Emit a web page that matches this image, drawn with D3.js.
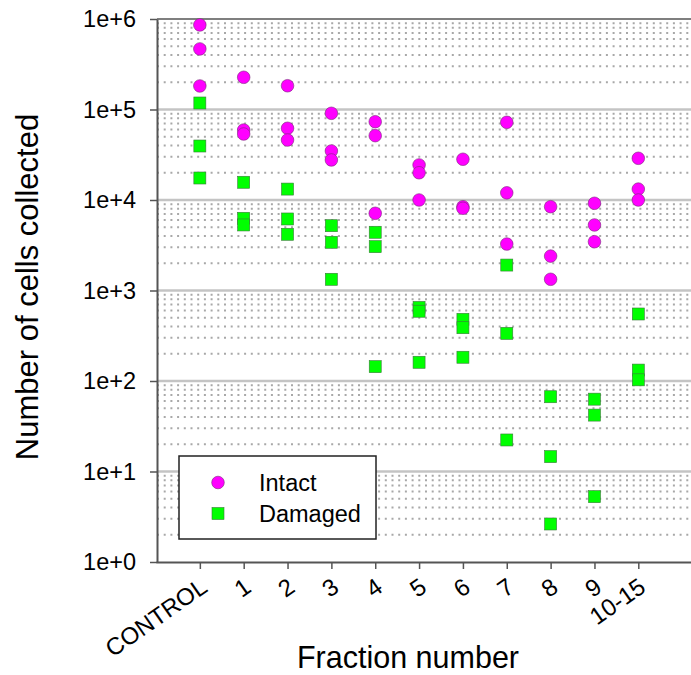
<!DOCTYPE html>
<html lang="en"><head>
<meta charset="utf-8">
<title>Cells collected by fraction</title>
<script type="text/javascript" src="https://cdn.jsdelivr.net/npm/d3@7/dist/d3.min.js"></script>
<style type="text/css">
  body { margin: 0; background: #fff; }
  text { font-family: "Liberation Sans", Arial, sans-serif; fill: #000; }
</style>
</head>
<body>
<script type="text/javascript">

var width = 691;
var height = 675;
var plot = {left: 157, top: 19, bottom: 562, right: 726};

var categories = ["CONTROL", "1", "2", "3", "4", "5", "6", "7", "8", "9", "10-15"];
var intact = [
  [860000, 467000, 182000],
  [227000, 59300, 53600],
  [183000, 62000, 46000],
  [90800, 34800, 27700],
  [73300, 51400, 7130],
  [24400, 20000, 10000],
  [28200, 8430, 8100],
  [72200, 12000, 3260],
  [8430, 2400, 1330],
  [9200, 5300, 3460],
  [28900, 13200, 10000]
];
var damaged = [
  [118000, 39500, 17500],
  [15700, 6280, 5300],
  [13200, 6170, 4180],
  [5200, 3410, 1330],
  [4400, 3050, 144],
  [650, 590, 161],
  [480, 388, 183],
  [1910, 336, 22.3],
  [67, 14.6, 2.63],
  [63, 42, 5.27],
  [550, 132, 103]
];
var yTicks = [1, 10, 100, 1000, 10000, 100000, 1000000];
var minorTicks = [];
yTicks.slice(0, -1).forEach(function(d) {
  for (var k = 2; k <= 9; k++) minorTicks.push(d * k);
});

var svg = d3.select("body").append("svg").attr("width", width).attr("height", height);

var x = d3.scaleLinear().domain([-1, 12]).range([plot.left - 1, plot.right]);
var y = d3.scaleLog().domain([1, 1e6]).range([plot.bottom, plot.top]);

// minor dotted grid
svg.append("g").selectAll("line").data(minorTicks).enter().append("line")
  .attr("x1", plot.left).attr("x2", width)
  .attr("y1", d => y(d)).attr("y2", d => y(d))
  .attr("stroke", "#a8a8a8").attr("stroke-width", 2)
  .attr("stroke-dasharray", "2,4.7");

// major grid
svg.append("g").selectAll("line").data(yTicks.slice(1, -1)).enter().append("line")
  .attr("x1", plot.left).attr("x2", width)
  .attr("y1", d => y(d)).attr("y2", d => y(d))
  .attr("stroke", "#c4c4c4").attr("stroke-width", 2.5);

// top frame line
svg.append("line").attr("x1", plot.left).attr("x2", width)
  .attr("y1", plot.top).attr("y2", plot.top)
  .attr("stroke", "#555").attr("stroke-width", 1.5);

var yAxis = d3.axisLeft(y).tickValues(yTicks).tickFormat(d3.format(".0e"))
  .tickSizeInner(7).tickSizeOuter(0).tickPadding(14);
var gY = svg.append("g").attr("transform", "translate(" + plot.left + ",0)").call(yAxis);
gY.selectAll("text").attr("font-size", "23.5px").style("font-family", "Liberation Sans, Arial, sans-serif");
gY.select(".domain").attr("stroke", "#555").attr("stroke-width", 2);
gY.selectAll(".tick line").attr("stroke", "#555").attr("stroke-width", 1.5);

var xAxis = d3.axisBottom(x).tickValues(d3.range(categories.length))
  .tickFormat(i => categories[i]).tickSizeInner(7).tickSizeOuter(0);
var gX = svg.append("g").attr("transform", "translate(0," + plot.bottom + ")").call(xAxis);
gX.select(".domain").attr("stroke", "#555").attr("stroke-width", 2);
gX.selectAll(".tick line").attr("stroke", "#555").attr("stroke-width", 1.5);
gX.selectAll(".tick text")
  .attr("font-size", "24px").style("font-family", "Liberation Sans, Arial, sans-serif")
  .attr("text-anchor", "end").attr("dy", null).attr("y", null)
  .attr("transform", "translate(8.5,28.5) rotate(-35)");

// points
var intactPts = [];
intact.forEach((vals, i) => vals.forEach(v => intactPts.push({i: i, v: v})));
var damagedPts = [];
damaged.forEach((vals, i) => vals.forEach(v => damagedPts.push({i: i, v: v})));

svg.append("g").selectAll("circle").data(intactPts).enter().append("circle")
  .attr("cx", d => x(d.i)).attr("cy", d => y(d.v)).attr("r", 6.3)
  .attr("fill", "#ff00ff").attr("stroke", "#7a2a7a").attr("stroke-width", 0.6);

svg.append("g").selectAll("rect").data(damagedPts).enter().append("rect")
  .attr("x", d => x(d.i) - 6).attr("y", d => y(d.v) - 6).attr("width", 12).attr("height", 12)
  .attr("fill", "#00ff00").attr("stroke", "#3a7a3a").attr("stroke-width", 0.6);

// legend
var legend = svg.append("g").attr("transform", "translate(179,456)");
legend.append("rect").attr("width", 197).attr("height", 83)
  .attr("fill", "#fff").attr("stroke", "#222").attr("stroke-width", 1.5);
legend.append("circle").attr("cx", 39).attr("cy", 26.5).attr("r", 6.3)
  .attr("fill", "#ff00ff").attr("stroke", "#7a2a7a").attr("stroke-width", 0.6);
legend.append("rect").attr("x", 33).attr("y", 51.5).attr("width", 12).attr("height", 12)
  .attr("fill", "#00ff00").attr("stroke", "#3a7a3a").attr("stroke-width", 0.6);
legend.append("text").attr("x", 80).attr("y", 34.5).attr("font-size", "23.5px").text("Intact");
legend.append("text").attr("x", 80).attr("y", 65.5).attr("font-size", "23.5px").text("Damaged");

// axis titles
svg.append("text").attr("transform", "translate(38,287) rotate(-90)")
  .attr("text-anchor", "middle").attr("font-size", "31px").text("Number of cells collected");
svg.append("text").attr("x", 408).attr("y", 668)
  .attr("text-anchor", "middle").attr("font-size", "30.5px").text("Fraction number");

</script>
</body>
</html>
